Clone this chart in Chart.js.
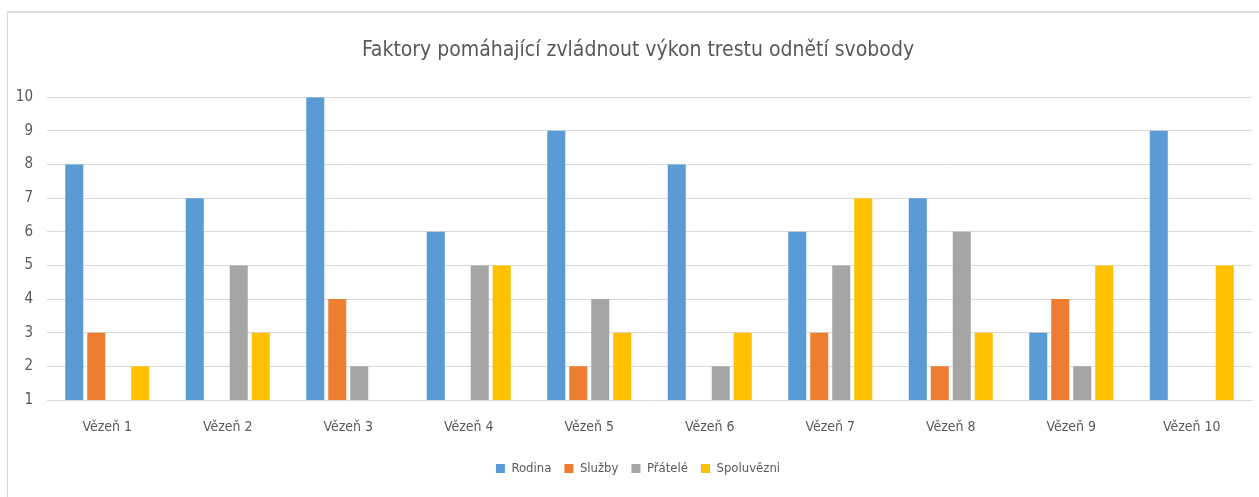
<!DOCTYPE html>
<html>
<head>
<meta charset="utf-8">
<script src="https://cdn.jsdelivr.net/npm/chart.js@4/dist/chart.umd.min.js"></script>
<style>
  html, body { margin: 0; padding: 0; background: #fff; }
  #wrap { position: relative; width: 1259px; height: 497px; overflow: hidden; }
  #frame { position: absolute; left: 7px; top: 11px; width: 1300px; height: 600px;
           border-top: 2px solid #d9d9d9; border-left: 1px solid #d9d9d9; box-sizing: border-box; }
  #c { position: absolute; left: 0; top: 0; }
</style>
</head>
<body>
<div id="wrap">
  <div id="frame"></div>
  <canvas id="c" width="1259" height="497"></canvas>
</div>
<script>
const categories = ["Vězeň 1","Vězeň 2","Vězeň 3","Vězeň 4","Vězeň 5","Vězeň 6","Vězeň 7","Vězeň 8","Vězeň 9","Vězeň 10"];
const rodina      = [8, 7, 10, 6, 9, 8, 6, 7, 3, 9];
const sluzby      = [3, null, 4, null, 2, null, 3, 2, 4, null];
const pratele     = [null, 5, 2, 5, 4, 2, 5, 6, 2, null];
const spoluvezni  = [2, 3, null, 5, 3, 3, 7, 3, 5, 5];
const yTicks = [1,2,3,4,5,6,7,8,9,10];

const FONT = "'Liberation Sans Narrow', 'DejaVu Sans Condensed', 'Liberation Sans', sans-serif";
const TXT = '#595959';

// shift title and legend centring to the chart frame (starts right of the axis labels)
const frameCentre = {
  id: 'frameCentre',
  afterLayout(chart) {
    if (chart.titleBlock) chart.titleBlock.left += 24;
    if (chart.legend) chart.legend.left += 24;
  }
};

new Chart(document.getElementById('c'), {
  type: 'bar',
  data: {
    labels: categories,
    datasets: [
      { label: 'Rodina', data: rodina, backgroundColor: '#5B9BD5' },
      { label: 'Služby', data: sluzby, backgroundColor: '#ED7D31' },
      { label: 'Přátelé', data: pratele, backgroundColor: '#A5A5A5' },
      { label: 'Spoluvězni', data: spoluvezni, backgroundColor: '#FFC000' }
    ]
  },
  plugins: [frameCentre],
  options: {
    responsive: false,
    animation: false,
    layout: { padding: { left: 0, right: 7, top: 0, bottom: 12 } },
    datasets: { bar: { categoryPercentage: 0.73, barPercentage: 0.82 } },
    plugins: {
      title: {
        display: true,
        text: 'Faktory pomáhající zvládnout výkon trestu odnětí svobody',
        color: TXT,
        font: { family: FONT, size: 21, weight: 'normal', lineHeight: 1.2 },
        padding: { top: 38, bottom: 34 }
      },
      legend: {
        position: 'bottom',
        labels: {
          color: TXT,
          font: { family: FONT, size: 13 },
          boxWidth: 9, boxHeight: 9, padding: 13
        }
      },
      tooltip: { enabled: false }
    },
    scales: {
      x: {
        grid: { display: false, drawTicks: false },
        border: { display: false },
        ticks: { color: TXT, font: { family: FONT, size: 14 }, padding: 19, maxRotation: 0 },
        afterFit: (s) => { s.height = 49; }
      },
      y: {
        min: 1, max: 10,
        afterBuildTicks: (s) => { s.ticks = yTicks.map(v => ({ value: v })); },
        grid: { color: '#d9d9d9', lineWidth: 1, drawTicks: false },
        border: { display: false },
        ticks: { color: TXT, font: { family: FONT, size: 15 }, padding: 14 },
        afterFit: (s) => { s.width = 47; }
      }
    }
  }
});
</script>
</body>
</html>
